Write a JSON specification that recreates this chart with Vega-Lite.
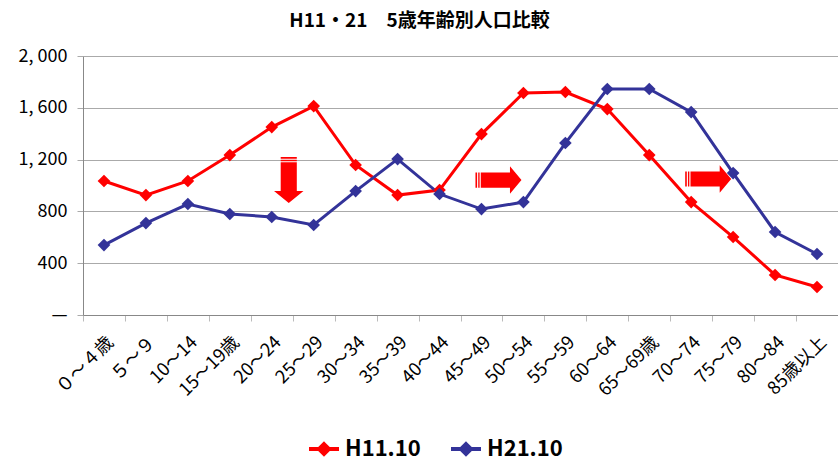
{
  "$schema": "https://vega.github.io/schema/vega-lite/v6.json",
  "width": 755,
  "height": 259,
  "autosize": {"type": "none"},
  "padding": {"left": 83, "top": 56, "right": 0, "bottom": 146},
  "background": "white",
  "title": {
    "text": "H11・21　5歳年齢別人口比較",
    "font": "Noto Sans CJK JP",
    "fontSize": 19,
    "fontWeight": "bold",
    "color": "black",
    "anchor": "middle",
    "frame": "group",
    "dx": -41,
    "offset": 16
  },
  "config": {
    "view": {"stroke": null},
    "axis": {"labelFont": "Noto Sans CJK JP", "labelColor": "black"}
  },
  "datasets": {
    "pop": [
      {"age": "０～４歳", "series": "H11.10", "value": 1035},
      {"age": "５～９", "series": "H11.10", "value": 926},
      {"age": "10～14", "series": "H11.10", "value": 1035},
      {"age": "15～19歳", "series": "H11.10", "value": 1235},
      {"age": "20～24", "series": "H11.10", "value": 1451},
      {"age": "25～29", "series": "H11.10", "value": 1613},
      {"age": "30～34", "series": "H11.10", "value": 1158},
      {"age": "35～39", "series": "H11.10", "value": 926},
      {"age": "40～44", "series": "H11.10", "value": 965},
      {"age": "45～49", "series": "H11.10", "value": 1397},
      {"age": "50～54", "series": "H11.10", "value": 1714},
      {"age": "55～59", "series": "H11.10", "value": 1722},
      {"age": "60～64", "series": "H11.10", "value": 1590},
      {"age": "65～69歳", "series": "H11.10", "value": 1235},
      {"age": "70～74", "series": "H11.10", "value": 872},
      {"age": "75～79", "series": "H11.10", "value": 602},
      {"age": "80～84", "series": "H11.10", "value": 309},
      {"age": "85歳以上", "series": "H11.10", "value": 216},
      {"age": "０～４歳", "series": "H21.10", "value": 540},
      {"age": "５～９", "series": "H21.10", "value": 710},
      {"age": "10～14", "series": "H21.10", "value": 857},
      {"age": "15～19歳", "series": "H21.10", "value": 780},
      {"age": "20～24", "series": "H21.10", "value": 757},
      {"age": "25～29", "series": "H21.10", "value": 695},
      {"age": "30～34", "series": "H21.10", "value": 957},
      {"age": "35～39", "series": "H21.10", "value": 1204},
      {"age": "40～44", "series": "H21.10", "value": 934},
      {"age": "45～49", "series": "H21.10", "value": 818},
      {"age": "50～54", "series": "H21.10", "value": 872},
      {"age": "55～59", "series": "H21.10", "value": 1328},
      {"age": "60～64", "series": "H21.10", "value": 1745},
      {"age": "65～69歳", "series": "H21.10", "value": 1745},
      {"age": "70～74", "series": "H21.10", "value": 1567},
      {"age": "75～79", "series": "H21.10", "value": 1096},
      {"age": "80～84", "series": "H21.10", "value": 641},
      {"age": "85歳以上", "series": "H21.10", "value": 471}
    ],
    "arrows": [
      {"age": "20～24", "value": 1042, "dir": "down"},
      {"age": "45～49", "value": 1042, "dir": "right"},
      {"age": "70～74", "value": 1050, "dir": "right"}
    ]
  },
  "layer": [
    {
      "data": {"name": "pop"},
      "mark": {"type": "line", "strokeWidth": 3},
      "encoding": {
        "x": {
          "field": "age", "type": "nominal", "sort": null,
          "axis": {
            "title": null, "labelAngle": -45, "labelFontSize": 18,
            "tickBand": "extent", "domainColor": "#888888", "tickColor": "#bbbbbb",
            "tickSize": 6, "labelPadding": 12, "grid": false
          }
        },
        "y": {
          "field": "value", "type": "quantitative",
          "scale": {"domain": [0, 2000], "nice": false},
          "axis": {
            "title": null, "values": [0, 400, 800, 1200, 1600, 2000],
            "labelExpr": "datum.value == 0 ? '—' : replace(format(datum.value, ','), ',', ', ')",
            "labelFontSize": 18, "gridColor": "#aaaaaa", "domainColor": "#888888",
            "tickColor": "#aaaaaa", "tickSize": 6, "labelPadding": 10
          }
        },
        "color": {
          "field": "series", "type": "nominal",
          "scale": {"domain": ["H11.10", "H21.10"], "range": ["#ff0000", "#333399"]},
          "legend": {
            "title": null,
            "orient": "none",
            "direction": "horizontal",
            "legendX": 224,
            "legendY": 376,
            "labelFont": "Noto Sans CJK JP",
            "labelFontSize": 22,
            "labelFontWeight": "bold",
            "labelColor": "black",
            "symbolType": "M-1,0L-0.33,0M0.33,0L1,0M0,-0.33L0.33,0L0,0.33L-0.33,0Z",
            "symbolSize": 900,
            "symbolStrokeWidth": 4,
            "columnPadding": 22,
            "labelOffset": 4,
            "encode": {
              "symbols": {"update": {
                "stroke": {"scale": "color", "field": "value"},
                "fill": {"scale": "color", "field": "value"},
                "strokeWidth": {"value": 4},
                "opacity": {"value": 1}
              }}
            }
          }
        }
      }
    },
    {
      "data": {"name": "pop"},
      "mark": {"type": "point", "filled": true, "shape": "diamond", "size": 160, "opacity": 1},
      "encoding": {
        "x": {"field": "age", "type": "nominal", "sort": null},
        "y": {"field": "value", "type": "quantitative"},
        "color": {"field": "series", "type": "nominal"}
      }
    },
    {
      "data": {"name": "arrows"},
      "mark": {"type": "point", "filled": true, "opacity": 1, "color": "#ff0000", "xOffset": 17, "size": 2116},
      "encoding": {
        "x": {"field": "age", "type": "nominal", "sort": null},
        "y": {"field": "value", "type": "quantitative"},
        "shape": {
          "field": "dir", "type": "nominal", "legend": null,
          "scale": {
            "domain": ["down", "right"],
            "range": [
              "M-0.35,-1L0.35,-1L0.35,-0.93L-0.35,-0.93Z M-0.35,-0.88L0.35,-0.88L0.35,-0.82L-0.35,-0.82Z M-0.35,-0.77L0.35,-0.77L0.35,0.48L0.64,0.48L0,1L-0.64,0.48L-0.35,0.48Z",
              "M-1,-0.33L-0.93,-0.33L-0.93,0.33L-1,0.33Z M-0.88,-0.33L-0.82,-0.33L-0.82,0.33L-0.88,0.33Z M-0.77,-0.33L0.5,-0.33L0.5,-0.6L1,0L0.5,0.6L0.5,0.33L-0.77,0.33Z"
            ]
          }
        }
      }
    }
  ]
}
